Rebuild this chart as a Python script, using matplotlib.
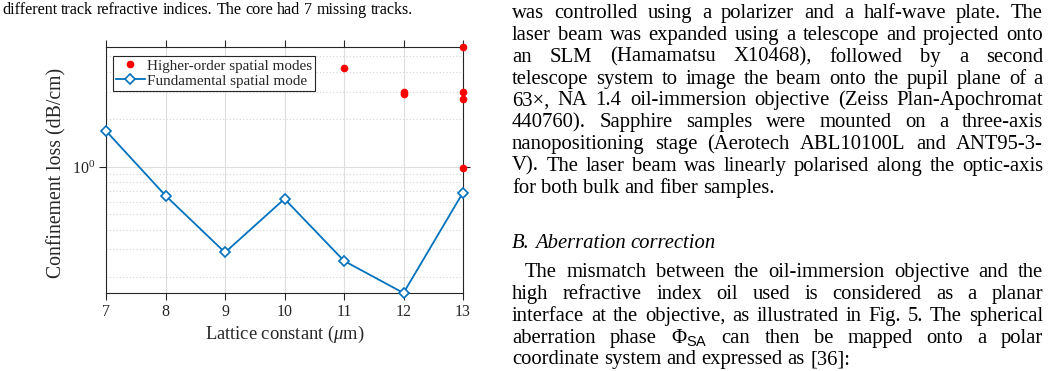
import matplotlib
matplotlib.use('Agg')
import matplotlib.pyplot as plt
from matplotlib.lines import Line2D
from matplotlib.ticker import LogLocator, NullLocator, FixedLocator
from matplotlib.font_manager import FontProperties

# ---------------- data ----------------
lattice = [7, 8, 9, 10, 11, 12, 13]
fund_loss = [1.69, 0.658, 0.287, 0.627, 0.254, 0.159, 0.688]
hom_lattice = [11, 12, 12, 13, 13, 13, 13]
hom_loss = [4.25, 3.0, 2.9, 5.74, 2.97, 2.69, 0.99]
x_ticks = [7, 8, 9, 10, 11, 12, 13]
legend_labels = ['Higher-order spatial modes', 'Fundamental spatial mode']
x_label = r'Lattice constant ($\mu$m)'
y_label = 'Confinement loss (dB/cm)'

caption = 'different track refractive indices. The core had 7 missing tracks.'
para1 = [
    'was controlled using a polarizer and a half-wave plate. The',
    'laser beam was expanded using a telescope and projected onto',
    'an SLM (Hamamatsu X10468), followed by a second',
    'telescope system to image the beam onto the pupil plane of a',
    '63\u00d7, NA 1.4 oil-immersion objective (Zeiss Plan-Apochromat',
    '440760). Sapphire samples were mounted on a three-axis',
    'nanopositioning stage (Aerotech ABL10100L and ANT95-3-',
    'V). The laser beam was linearly polarised along the optic-axis',
    'for both bulk and fiber samples.',
]
heading = 'B. Aberration correction'
para2 = [
    'The mismatch between the oil-immersion objective and the',
    'high refractive index oil used is considered as a planar',
    'interface at the objective, as illustrated in Fig. 5. The spherical',
    r'aberration phase $\Phi_{\mathsf{SA}}$ can then be mapped onto a polar',
    'coordinate system and expressed as [36]:',
]

# ---------------- style ----------------
plt.rcParams['font.family'] = ['Liberation Serif', 'DejaVu Serif']
plt.rcParams['mathtext.fontset'] = 'custom'
plt.rcParams['mathtext.rm'] = 'Liberation Serif'
plt.rcParams['mathtext.it'] = 'Liberation Serif:italic'
plt.rcParams['mathtext.sf'] = 'Liberation Sans'

W, H = 1050, 371
fig = plt.figure(figsize=(W / 100, H / 100), dpi=100)
renderer = fig.canvas.get_renderer()
dark = '#262626'
blue = '#0072BD'


def px(x, y):
    return x / W, 1 - y / H


# ---------------- chart ----------------
ax = fig.add_axes([106 / W, 1 - 293 / H, (463 - 106) / W, (293 - 47) / H])
ax.set_yscale('log')
ax.plot(hom_lattice, hom_loss, ls='none', marker='o', color='red', ms=4.5,
        clip_on=False, zorder=4)
ax.plot(lattice, fund_loss, color=blue, lw=1.3, marker='D', ms=5, mfc='white',
        mec=blue, mew=1.2, clip_on=False, zorder=3)
ax.set_xlim(min(lattice), max(lattice))
ax.set_ylim(min(fund_loss), max(hom_loss))
ax.xaxis.set_major_locator(FixedLocator(x_ticks))
ax.xaxis.set_minor_locator(NullLocator())
ax.yaxis.set_major_locator(LogLocator(base=10))
ax.yaxis.set_minor_locator(LogLocator(base=10, subs=range(2, 10)))
ax.grid(which='major', color='#dedede', lw=0.8, ls='-')
ax.grid(which='minor', axis='y', color='#d4d4d4', lw=0.8, ls=(0, (1, 2)))
ax.set_axisbelow(True)
ax.tick_params(which='major', direction='out', length=5, width=0.8,
               top=True, right=True, colors=dark, labelsize=11.5, pad=3)
ax.tick_params(which='minor', length=0)
for s in ax.spines.values():
    s.set_color(dark)
    s.set_linewidth(0.8)
ax.set_xlabel(x_label, fontsize=13.3, color=dark)
ax.set_ylabel(y_label, fontsize=14.2, color=dark)
ax.xaxis.set_label_coords(0.5, -0.125)
ax.yaxis.set_label_coords(-0.112, 0.49)

h1 = Line2D([], [], ls='none', marker='o', color='red', ms=4.5)
h2 = Line2D([], [], color=blue, lw=1.3, marker='D', ms=5, mfc='white', mec=blue, mew=1.2)
leg = ax.legend([h1, h2], legend_labels, loc='upper left',
                bbox_to_anchor=(113 / W, 1 - 56 / H), bbox_transform=fig.transFigure,
                borderaxespad=0, fancybox=False, framealpha=1, edgecolor=dark,
                prop=FontProperties(family='Liberation Serif', size=10.9),
                handlelength=1.9, handletextpad=0.15, borderpad=0.2, labelspacing=0.1)
leg.get_frame().set_linewidth(0.8)
for t in leg.get_texts():
    t.set_color(dark)


# ---------------- page text ----------------
def text_width(s, **kw):
    t = fig.text(0, 0, s, **kw)
    w = t.get_window_extent(renderer).width
    t.remove()
    return w


def fit_size(s, target, **kw):
    w = text_width(s, fontsize=10, **kw)
    return 10 * target / w


def draw_line(s, x0, x1, base_y, justify, **kw):
    words = s.split(' ')
    widths = [text_width(w, **kw) for w in words]
    if justify and len(words) > 1:
        gap = (x1 - x0 - sum(widths)) / (len(words) - 1)
    else:
        gap = text_width('a a', **kw) - text_width('aa', **kw)
    x = x0
    for w, wd in zip(words, widths):
        fig.text(*px(x, base_y), w, ha='left', va='baseline', color='black', **kw)
        x += wd + gap


cap_size = fit_size(caption, 413)
draw_line(caption, 2, 415, 14, False, fontsize=cap_size)

body_size = fit_size(para2[-1], 339)
X0, X1 = 512, 1043
lead = 21.85
for i, line in enumerate(para1):
    draw_line(line, X0, X1, 18 + i * lead, i < len(para1) - 1, fontsize=body_size)
draw_line(heading, X0, X1, 248, False, fontsize=body_size, style='italic')
for i, line in enumerate(para2):
    x0 = X0 + 13 if i == 0 else X0
    draw_line(line, x0, X1, 277 + i * lead, i < len(para2) - 1, fontsize=body_size)

fig.savefig('out.png', dpi=100)
